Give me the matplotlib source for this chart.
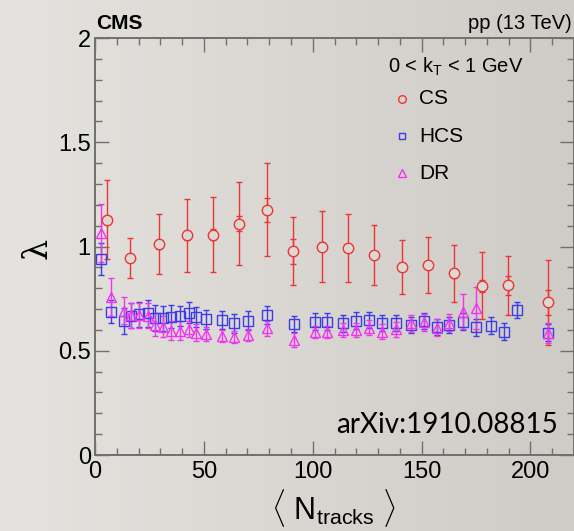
import numpy as np
import matplotlib
matplotlib.use("Agg")
import matplotlib.pyplot as plt
from matplotlib.ticker import MultipleLocator
from matplotlib.colors import LinearSegmentedColormap

plt.rcParams["font.family"] = ["Liberation Sans", "DejaVu Sans"]
plt.rcParams["mathtext.fontset"] = "custom"
plt.rcParams["mathtext.rm"] = "Liberation Sans"
plt.rcParams["mathtext.it"] = "Liberation Sans:italic"

# CS (Cauchy source, red circles)
cs_n = [5.5, 16.2, 29.2, 42.2, 54.2, 66.1, 79.1, 91.0, 104.1, 116.0, 128.0,
        141.1, 152.9, 165.0, 177.8, 189.8, 207.9]
cs_lam = [1.128, 0.944, 1.010, 1.053, 1.057, 1.110, 1.177, 0.978, 1.000, 0.994,
          0.960, 0.903, 0.912, 0.871, 0.812, 0.813, 0.733]
cs_err = [0.19, 0.097, 0.144, 0.176, 0.18, 0.20, 0.222, 0.165, 0.172, 0.162,
          0.144, 0.129, 0.134, 0.138, 0.16, 0.143, 0.204]
cs_stat = [0.02, 0.02, 0.02, 0.02, 0.027, 0.038, 0.058, 0.06, 0.02, 0.02,
           0.02, 0.02, 0.02, 0.02, 0.028, 0.046, 0.06]

# HCS (blue squares)
hcs_n = [2.9, 7.5, 13.2, 16.5, 20.1, 24.3, 27.7, 31.1, 35.0, 39.2, 43.0, 46.4,
         51.1, 58.2, 64.0, 70.4, 79.1, 91.4, 101.2, 106.7, 114.0, 120.1, 125.9,
         131.9, 138.1, 145.1, 151.1, 156.9, 162.7, 169.1, 174.9, 182.1, 187.9,
         193.9, 208.1]
hcs_lam = [0.940, 0.687, 0.644, 0.667, 0.675, 0.680, 0.656, 0.656, 0.664, 0.667,
           0.683, 0.664, 0.651, 0.647, 0.632, 0.644, 0.671, 0.628, 0.639, 0.639,
           0.632, 0.644, 0.647, 0.632, 0.632, 0.624, 0.644, 0.615, 0.624, 0.639,
           0.613, 0.620, 0.592, 0.696, 0.587]
hcs_err = [0.076, 0.056, 0.062, 0.06, 0.06, 0.065, 0.062, 0.06, 0.055, 0.05,
           0.05, 0.048, 0.045, 0.045, 0.045, 0.045, 0.043, 0.04, 0.04, 0.04,
           0.04, 0.04, 0.04, 0.038, 0.038, 0.038, 0.038, 0.038, 0.038, 0.04,
           0.04, 0.04, 0.04, 0.04, 0.04]

# DR (magenta triangles)
dr_n = [2.9, 7.5, 13.2, 16.5, 20.1, 24.3, 27.7, 31.1, 35.0, 39.2, 43.0, 46.4,
        51.1, 58.2, 64.0, 70.4, 79.1, 91.4, 101.2, 106.7, 114.0, 120.1, 125.9,
        131.9, 138.1, 145.1, 151.1, 156.9, 162.7, 169.1, 174.9, 208.1]
dr_lam = [1.066, 0.759, 0.692, 0.671, 0.671, 0.667, 0.624, 0.616, 0.597, 0.597,
          0.604, 0.587, 0.581, 0.571, 0.565, 0.576, 0.608, 0.552, 0.591, 0.591,
          0.600, 0.600, 0.611, 0.591, 0.603, 0.632, 0.636, 0.611, 0.635, 0.688,
          0.704, 0.585]
dr_err = [0.14, 0.09, 0.065, 0.06, 0.06, 0.06, 0.055, 0.05, 0.045, 0.045, 0.04,
          0.04, 0.035, 0.03, 0.03, 0.03, 0.035, 0.035, 0.03, 0.03, 0.035, 0.035,
          0.035, 0.035, 0.035, 0.04, 0.04, 0.04, 0.04, 0.085, 0.10, 0.05]

RED, BLUE, MAG = "#ee3434", "#3c3ce8", "#f034f0"
BG_L, BG_R = "#e5e3df", "#cfcbc6"

W, H = 574, 531
fig = plt.figure(figsize=(W/100, H/100), dpi=100)
bg = fig.add_axes([0, 0, 1, 1], zorder=-10)
bg.imshow(np.linspace(0, 1, 256).reshape(1, -1), aspect="auto", extent=[0, 1, 0, 1],
          cmap=LinearSegmentedColormap.from_list("bg", [BG_L, BG_R]))
bg.axis("off")

ax = fig.add_axes([95/W, 76/H, 479/W, 417/H])
ax.patch.set_alpha(0)

ekw = dict(ls="none", elinewidth=1.0, capsize=2, capthick=1.0)
ax.errorbar(hcs_n, hcs_lam, yerr=hcs_err, ecolor=BLUE, marker="s", ms=6.5,
            mfc="none", mec=BLUE, mew=1.0, zorder=3, **ekw)
ax.errorbar(dr_n, dr_lam, yerr=dr_err, ecolor=MAG, marker="^", ms=7,
            mfc="none", mec=MAG, mew=1.0, zorder=3, **ekw)
ax.errorbar(cs_n, cs_lam, yerr=cs_err, ecolor=RED, marker="none", zorder=2, **ekw)
ax.errorbar(cs_n, cs_lam, yerr=cs_stat, ecolor=RED, marker="none", zorder=2, **ekw)
ax.plot(cs_n, cs_lam, ls="none", marker="o", ms=7.5, mfc="#dcd9d4", mec=RED,
        mew=1.0, zorder=4)

ax.set_xlim(0, 220)
ax.set_ylim(0, 2)
ax.xaxis.set_major_locator(MultipleLocator(50))
ax.xaxis.set_minor_locator(MultipleLocator(10))
ax.yaxis.set_major_locator(MultipleLocator(0.5))
ax.yaxis.set_minor_locator(MultipleLocator(0.1))
ax.yaxis.set_major_formatter(plt.FuncFormatter(lambda v, p: "%g" % v))
ax.tick_params(which="both", direction="in", top=True, right=True, color="#707070",
               width=1.0, labelsize=17, labelcolor="black")
ax.tick_params(which="major", length=10)
ax.tick_params(which="minor", length=5)
ax.tick_params(axis="x", pad=4)
ax.tick_params(axis="y", pad=3)
for s in ax.spines.values():
    s.set_color("#707070"); s.set_linewidth(1.4)

# legend-like block
fig.text(388/W, 1-73/H, r"0 < k$_{\mathrm{T}}$ < 1 GeV", fontsize=14.5, ha="left", va="baseline")
for yy, lab, mk, col, ms in [(99, "CS", "o", RED, 5.5), (136, "HCS", "s", BLUE, 5), (173, "DR", "^", MAG, 5.5)]:
    fig.lines.append(plt.Line2D([402/W], [1-yy/H], transform=fig.transFigure, ls="none",
                                marker=mk, ms=ms, mfc="none", mec=col, mew=1.0))
    fig.text(419/W, 1-yy/H, lab, fontsize=15, ha="left", va="center")

fig.text(96/W, 1-29/H, "CMS", fontsize=15, fontweight="bold", ha="left", va="baseline")
fig.text(572/W, 1-29/H, "pp (13 TeV)", fontsize=14.5, ha="right", va="baseline")
fig.text(558/W, 1-433/H, "arXiv:1910.08815", fontsize=20, family="Lato",
         ha="right", va="baseline")
fig.text(38/W, 1-248/H, "λ", fontsize=24, family="DejaVu Serif", rotation=90,
         ha="center", va="center")
fig.text(333/W, 1-508/H, r"$\langle\ \mathrm{N}_{\mathrm{tracks}}\ \rangle$", fontsize=22,
         ha="center", va="center")

fig.savefig("out.png", dpi=100)
